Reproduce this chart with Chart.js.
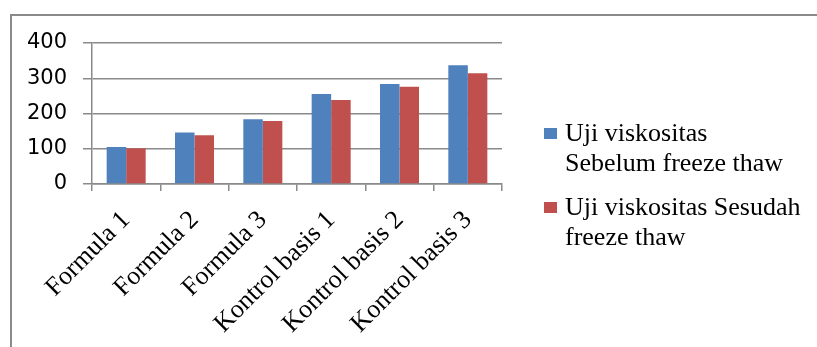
<!DOCTYPE html>
<html>
<head>
<meta charset="utf-8">
<script src="https://cdn.jsdelivr.net/npm/chart.js@4"></script>
<style>
  html, body { margin: 0; padding: 0; background: #fff; }
  #wrap { position: relative; width: 817px; height: 347px; overflow: hidden; }
  #frame {
    position: absolute; left: 10px; top: 14px; width: 900px; height: 400px;
    border-top: 2px solid #8a8a8a; border-left: 2px solid #8a8a8a;
  }
  canvas { position: absolute; left: 0; top: 0; }
</style>
</head>
<body>
<div id="wrap">
  <div id="frame"></div>
  <canvas id="viskChart" width="817" height="347"></canvas>
</div>
<script>
const categories = ['Formula 1', 'Formula 2', 'Formula 3', 'Kontrol basis 1', 'Kontrol basis 2', 'Kontrol basis 3'];
const sebelum = [105, 146, 184, 255, 284, 337];
const sesudah = [101, 138, 179, 238, 276, 314];
const yTicks = [0, 100, 200, 300, 400];
const legendLines = [
  ['Uji viskositas', 'Sebelum freeze thaw'],
  ['Uji viskositas Sesudah', 'freeze thaw']
];

const BLUE = '#4f81bd';
const RED = '#c0504d';
const GRID = '#8a8a8a';

// legend drawn on the right, two-line entries
const sideLegend = {
  id: 'sideLegend',
  afterDraw(chart) {
    const ctx = chart.ctx;
    const items = [{ y: 141 }, { y: 215 }];
    ctx.save();
    ctx.font = '26px "Liberation Serif"';
    ctx.textBaseline = 'alphabetic';
    items.forEach((it, i) => {
      ctx.fillStyle = chart.data.datasets[i].backgroundColor;
      ctx.fillRect(544, it.y - 13, 13, 11);
      ctx.fillStyle = '#000';
      legendLines[i].forEach((line, j) => {
        ctx.fillText(line, 565, it.y + j * 30);
      });
    });
    ctx.restore();
  }
};

const ctx = document.getElementById('viskChart').getContext('2d');
new Chart(ctx, {
  type: 'bar',
  data: {
    labels: categories,
    datasets: [
      { label: 'Uji viskositas Sebelum freeze thaw', data: sebelum, backgroundColor: BLUE },
      { label: 'Uji viskositas Sesudah freeze thaw', data: sesudah, backgroundColor: RED }
    ]
  },
  options: {
    responsive: false,
    animation: false,
    layout: { padding: { top: 43, right: 315, left: 0, bottom: 0 } },
    datasets: { bar: { categoryPercentage: 0.571, barPercentage: 1.0 } },
    plugins: {
      legend: { display: false },
      tooltip: { enabled: false }
    },
    scales: {
      x: {
        offset: true,
        grid: { display: true, drawOnChartArea: false, drawTicks: true, tickLength: 7, color: GRID, lineWidth: 1.5, offset: true },
        border: { display: true, color: GRID, width: 1.5 },
        ticks: {
          minRotation: 45, maxRotation: 45, padding: 14,
          color: '#000', font: { family: 'Liberation Serif', size: 26 }
        },
        afterFit(scale) { scale.height = 163; }
      },
      y: {
        min: 0, max: 400,
        afterBuildTicks(scale) { scale.ticks = yTicks.map(v => ({ value: v })); },
        grid: { color: GRID, lineWidth: 1.5, tickLength: 9 },
        border: { display: true, color: GRID, width: 1.5 },
        ticks: { padding: 16, color: '#000', font: { family: 'DejaVu Sans', size: 21 } },
        afterFit(scale) { scale.width = 92; }
      }
    }
  },
  plugins: [sideLegend]
});
</script>
</body>
</html>
